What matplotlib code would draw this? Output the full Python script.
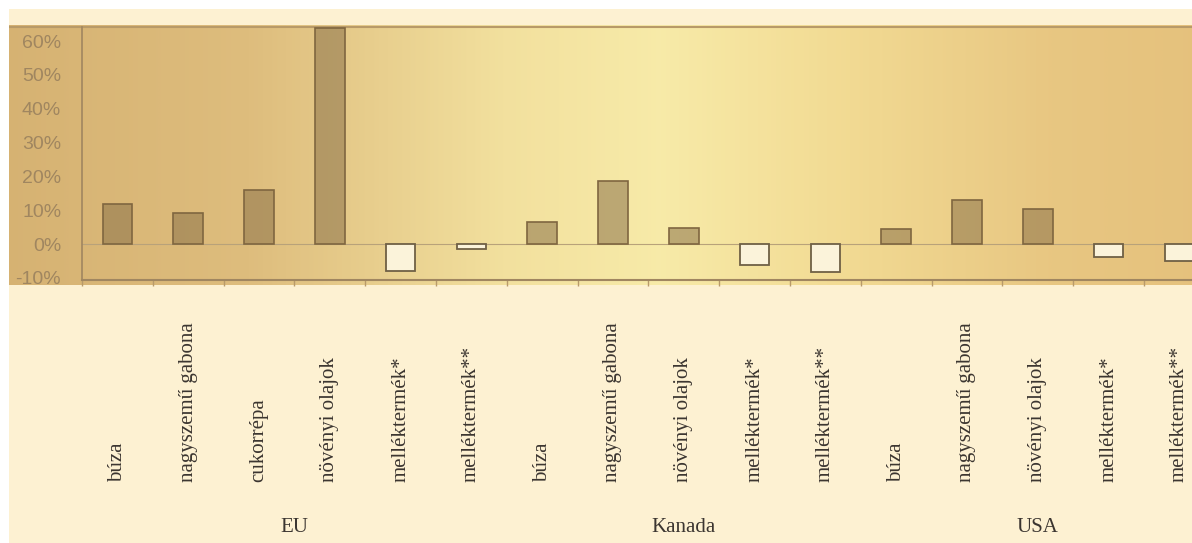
import numpy as np
import matplotlib
matplotlib.use("Agg")
import matplotlib.pyplot as plt
from matplotlib import transforms
from matplotlib.patches import Rectangle
from matplotlib.colors import LinearSegmentedColormap

# ---- data ----
groups = ["EU", "Kanada", "USA"]
eu_items = ["búza", "nagyszemű gabona", "cukorrépa", "növényi olajok", "melléktermék*", "melléktermék**"]
eu_values = [11.8, 9.2, 16.0, 63.8, -8.0, -1.5]
ca_items = ["búza", "nagyszemű gabona", "növényi olajok", "melléktermék*", "melléktermék**"]
ca_values = [6.5, 18.6, 4.7, -6.3, -8.4]
us_items = ["búza", "nagyszemű gabona", "növényi olajok", "melléktermék*", "melléktermék**"]
us_values = [4.5, 13.0, 10.5, -3.8, -5.0]
y_ticks = [-10, 0, 10, 20, 30, 40, 50, 60]

items = eu_items + ca_items + us_items
values = eu_values + ca_values + us_values
group_sizes = [len(eu_items), len(ca_items), len(us_items)]

W, H = 1192, 543
fig = plt.figure(figsize=(W / 100, H / 100), dpi=100, facecolor="white")

# cream page area
fig.patches.append(Rectangle((9 / W, 0), 1, 1 - 9 / H, transform=fig.transFigure,
                             facecolor="#fdf1d2", edgecolor="none", zorder=-5))

# tan scanned band behind the plot (horizontal gradient)
band_top, band_bot = 25, 285
bg_ax = fig.add_axes([9 / W, 1 - band_bot / H, 1 - 9 / W, (band_bot - band_top) / H], zorder=1)
stops = [(0.0, (0.84, 0.70, 0.45)), (0.2, (0.87, 0.74, 0.49)), (0.42, (0.95, 0.88, 0.62)),
         (0.55, (0.97, 0.92, 0.66)), (0.7, (0.95, 0.86, 0.58)), (0.88, (0.91, 0.78, 0.51)),
         (1.0, (0.90, 0.76, 0.49))]
cmap = LinearSegmentedColormap.from_list("band", stops)
grad = np.linspace(0, 1, 512)[None, :]
bg_ax.imshow(grad, aspect="auto", cmap=cmap, extent=[0, 1, 0, 1])
bg_ax.axhline(0.993, color="#b89a68", lw=1.5)
bg_ax.set_xlim(0, 1)
bg_ax.set_ylim(0, 1)
bg_ax.set_axis_off()

# main axes
spacing = 70.8
ax_left = 82 / W
ax_bottom = 1 - 279.5 / H
ax_h = (279.5 - 27) / H
ax_w = 16 * spacing / W
ax = fig.add_axes([ax_left, ax_bottom, ax_w, ax_h], zorder=2)
ax.patch.set_alpha(0)

x = np.arange(len(values))
pos_face = (0.55, 0.45, 0.29, 0.55)
neg_face = "#fbf3da"
for xi, v in zip(x, values):
    if v >= 0:
        ax.bar(xi, v, width=0.42, color=pos_face, edgecolor="#7f6640", linewidth=1.2, zorder=3)
    else:
        ax.bar(xi, v, width=0.42, color=neg_face, edgecolor="#6f6045", linewidth=1.3, zorder=3)

ax.axhline(0, color="#b8a27a", lw=0.8, zorder=2)
ax.set_xlim(-0.5, len(values) - 0.5)
ax.set_ylim(-10.5, 64.2)
ax.set_yticks(y_ticks)
ax.set_yticklabels([f"{t}%" for t in y_ticks], fontsize=14, color="#a08660",
                   family=["Liberation Sans", "DejaVu Sans"])
ax.tick_params(axis="y", length=0, pad=15)

ax.set_xticks(x)
ax.set_xticklabels([])
ax.tick_params(axis="x", which="major", length=0)
ax.set_xticks(np.arange(len(values) + 1) - 0.5, minor=True)
ax.tick_params(axis="x", which="minor", length=4, color="#b89a6a", width=1)

for side in ["top", "right"]:
    ax.spines[side].set_visible(False)
ax.spines["left"].set_color("#a08660")
ax.spines["left"].set_linewidth(1.2)
ax.spines["bottom"].set_color("#a08660")
ax.spines["bottom"].set_linewidth(1.5)

# category labels (rotated, bottom aligned)
trans = transforms.blended_transform_factory(ax.transData, fig.transFigure)
for xi, lab in zip(x, items):
    ax.text(xi, 1 - 482 / H, lab, rotation=90, ha="center", va="bottom",
            fontsize=15, color="#3b3530", family=["Liberation Serif", "DejaVu Serif"],
            transform=trans, clip_on=False)

# group labels
start = 0
for g, n in zip(groups, group_sizes):
    center = start + (n - 1) / 2
    ax.text(center, 1 - 527 / H, g, ha="center", va="center", fontsize=15,
            color="#3b3530", family=["Liberation Serif", "DejaVu Serif"],
            transform=trans, clip_on=False)
    start += n

fig.savefig("out.png", dpi=100)
